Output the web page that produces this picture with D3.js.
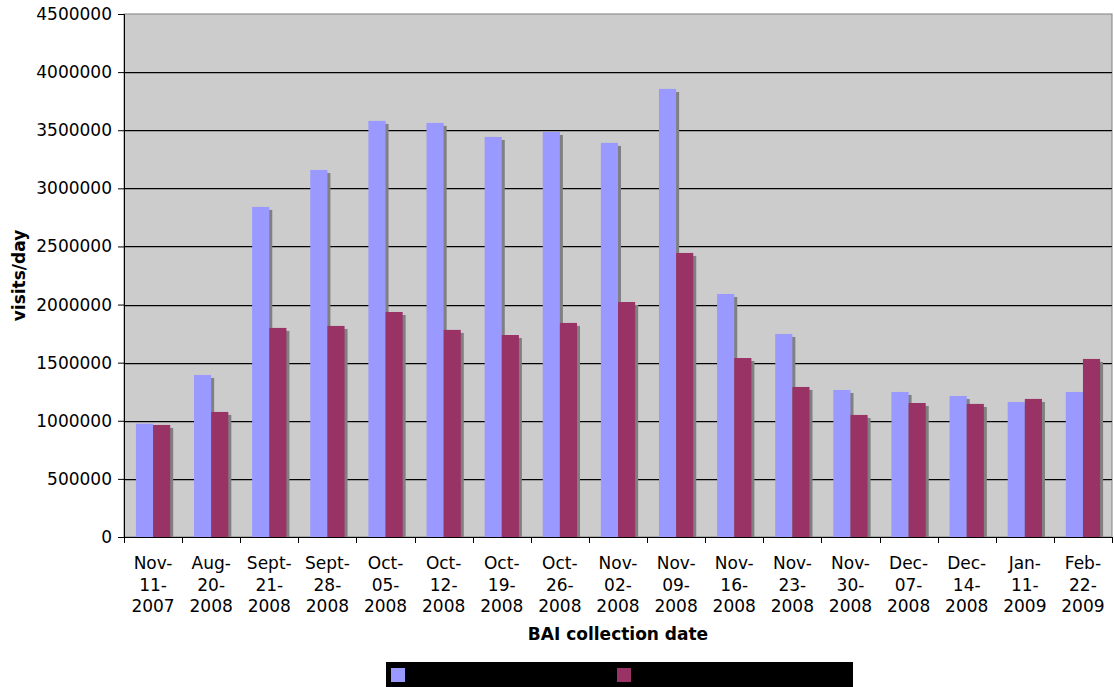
<!DOCTYPE html>
<html>
<head>
<meta charset="utf-8">
<script src="https://cdn.jsdelivr.net/npm/d3@7"></script>
<style>
  body { margin: 0; background: #fff; }
  text { font-family: "DejaVu Sans", Verdana, sans-serif; }
</style>
</head>
<body>
<div id="chart"></div>
<script>
// Chart data
const dates = [
  ["Nov-", "11-", "2007"], ["Aug-", "20-", "2008"], ["Sept-", "21-", "2008"],
  ["Sept-", "28-", "2008"], ["Oct-", "05-", "2008"], ["Oct-", "12-", "2008"],
  ["Oct-", "19-", "2008"], ["Oct-", "26-", "2008"], ["Nov-", "02-", "2008"],
  ["Nov-", "09-", "2008"], ["Nov-", "16-", "2008"], ["Nov-", "23-", "2008"],
  ["Nov-", "30-", "2008"], ["Dec-", "07-", "2008"], ["Dec-", "14-", "2008"],
  ["Jan-", "11-", "2009"], ["Feb-", "22-", "2009"]
];
const seriesA = [975000, 1394000, 2840000, 3158000, 3580000, 3563000, 3442000, 3485000,
  3391000, 3855000, 2091000, 1747000, 1265000, 1248000, 1213000, 1162000, 1248000];
const seriesB = [964000, 1076000, 1799000, 1816000, 1936000, 1782000, 1738000, 1842000,
  2022000, 2444000, 1540000, 1291000, 1050000, 1153000, 1145000, 1188000, 1532000];
const yTicks = [0, 500000, 1000000, 1500000, 2000000, 2500000, 3000000, 3500000, 4000000, 4500000];
const colors = ["#9999ff", "#993366"];

const width = 1114, height = 687;
const margin = { top: 14, left: 124, right: 2, bottom: 150 };
const plotW = width - margin.left - margin.right;
const plotH = height - margin.top - margin.bottom;

const svg = d3.select("#chart").append("svg")
  .attr("width", width)
  .attr("height", height);

const g = svg.append("g").attr("transform", `translate(${margin.left},${margin.top})`);

const x = d3.scaleBand()
  .domain(d3.range(dates.length))
  .range([0, plotW])
  .paddingInner(0.41)
  .paddingOuter(0.205);

const xSub = d3.scaleBand()
  .domain([0, 1])
  .range([0, x.bandwidth()]);

const y = d3.scaleLinear()
  .domain([0, 4500000])
  .range([plotH, 0]);

// Plot background
g.append("rect")
  .attr("width", plotW)
  .attr("height", plotH)
  .attr("fill", "#cccccc")
  .attr("stroke", "#808080");

// Grid lines (with a soft shadow line under each)
yTicks.slice(1, -1).forEach(t => {
  g.append("line")
    .attr("x1", 0).attr("x2", plotW)
    .attr("y1", Math.round(y(t)) + 1.5).attr("y2", Math.round(y(t)) + 1.5)
    .attr("stroke", "#9a9a9a");
  g.append("line")
    .attr("x1", 0).attr("x2", plotW)
    .attr("y1", Math.round(y(t)) + 0.5).attr("y2", Math.round(y(t)) + 0.5)
    .attr("stroke", "#000");
});

// Bars with drop shadows
const series = [seriesA, seriesB];
series.forEach((vals, s) => {
  g.selectAll(".shadow" + s)
    .data(vals)
    .enter()
    .append("rect")
    .attr("x", (d, i) => x(i) + xSub(s) + 3)
    .attr("y", d => y(d) + 3)
    .attr("width", xSub.bandwidth())
    .attr("height", d => plotH - y(d) - 3)
    .attr("fill", "#808080");
});
series.forEach((vals, s) => {
  g.selectAll(".bar" + s)
    .data(vals)
    .enter()
    .append("rect")
    .attr("x", (d, i) => x(i) + xSub(s))
    .attr("y", d => y(d))
    .attr("width", xSub.bandwidth())
    .attr("height", d => plotH - y(d))
    .attr("fill", colors[s]);
});

// Y axis
const yAxis = g.append("g")
  .call(d3.axisLeft(y).tickValues(yTicks).tickFormat(d3.format("d")).tickSize(6).tickPadding(6));
yAxis.selectAll("text").attr("font-size", "17px").attr("fill", "#000");
yAxis.select(".domain").attr("stroke", "#000");

// X axis: tick marks at category boundaries
const step = x.step();
const xAxis = g.append("g").attr("transform", `translate(0,${plotH})`);
xAxis.append("line")
  .attr("x1", 0).attr("x2", plotW)
  .attr("y1", 0.5).attr("y2", 0.5)
  .attr("stroke", "#000");
d3.range(dates.length + 1).forEach(i => {
  const xp = Math.round(i * step) + 0.5;
  xAxis.append("line")
    .attr("x1", xp).attr("x2", xp)
    .attr("y1", 0).attr("y2", 6)
    .attr("stroke", "#000");
});
dates.forEach((lines, i) => {
  const t = xAxis.append("text")
    .attr("x", x(i) + x.bandwidth() / 2)
    .attr("y", 32)
    .attr("text-anchor", "middle")
    .attr("font-size", "17px");
  lines.forEach((l, k) => {
    t.append("tspan")
      .attr("x", x(i) + x.bandwidth() / 2)
      .attr("dy", k === 0 ? 0 : 21.5)
      .text(l);
  });
});

// Axis titles
svg.append("text")
  .attr("x", margin.left + plotW / 2)
  .attr("y", 640)
  .attr("text-anchor", "middle")
  .attr("font-size", "17px")
  .attr("font-weight", "bold")
  .text("BAI collection date");

svg.append("text")
  .attr("transform", `translate(25,${margin.top + plotH / 2}) rotate(-90)`)
  .attr("text-anchor", "middle")
  .attr("font-size", "17px")
  .attr("font-weight", "bold")
  .text("visits/day");

// Legend
svg.append("rect")
  .attr("x", 386).attr("y", 662)
  .attr("width", 467).attr("height", 25)
  .attr("fill", "#000");
[391, 617].forEach((lx, s) => {
  svg.append("rect")
    .attr("x", lx).attr("y", 668)
    .attr("width", 14).attr("height", 14)
    .attr("fill", colors[s]);
});
</script>
</body>
</html>
